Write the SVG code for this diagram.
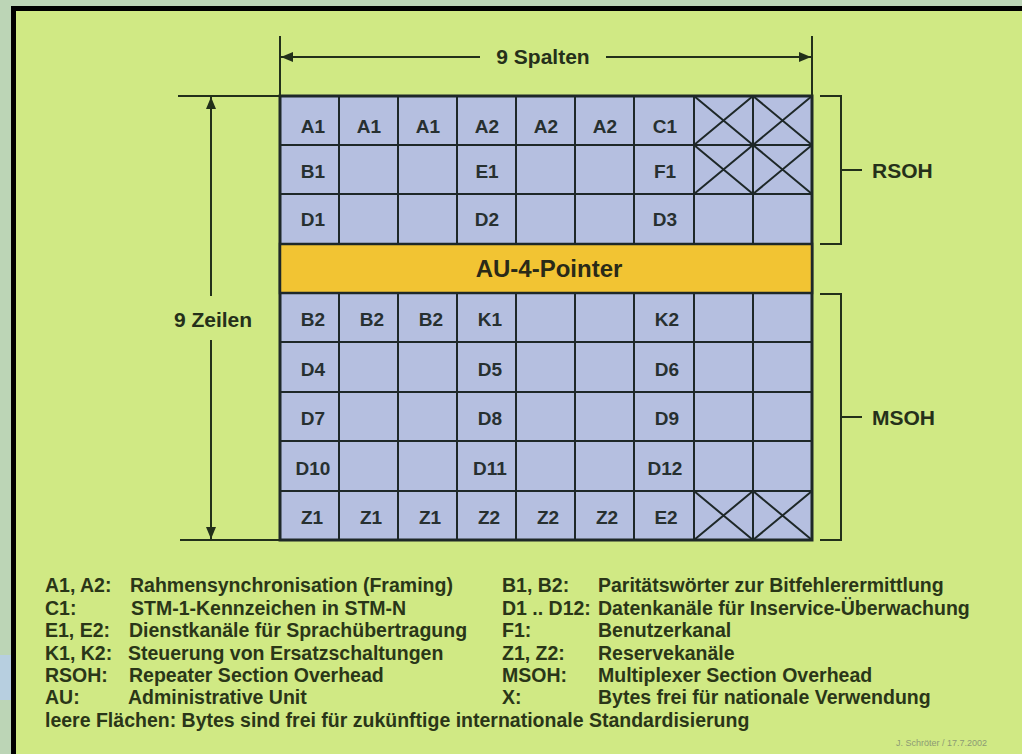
<svg xmlns="http://www.w3.org/2000/svg" width="1022" height="754" viewBox="0 0 1022 754">
<style>
.cell{fill:#b5bfe0;stroke:#1e2828;stroke-width:2}
.ct{font-family:"Liberation Sans",Arial,sans-serif;font-weight:bold;font-size:19px;fill:#273030;text-anchor:middle}
.lbl{font-family:"Liberation Sans",Arial,sans-serif;font-weight:bold;font-size:21px;fill:#25301a}
.lg{font-family:"Liberation Sans",Arial,sans-serif;font-weight:bold;font-size:19.5px;fill:#2a3618}
.ln{stroke:#22301a;stroke-width:2;fill:none}
.x{stroke:#1e2828;stroke-width:2}
</style>
<defs>
<marker id="ah" viewBox="0 0 12 10" refX="12" refY="5" markerWidth="12" markerHeight="10" markerUnits="userSpaceOnUse" orient="auto-start-reverse">
<path d="M0,0 L12,5 L0,10 z" fill="#22301a"/>
</marker>
</defs>
<rect x="0" y="0" width="1022" height="754" fill="#bcd5b6"/>
<rect x="0" y="655" width="11" height="45" fill="#b7cfe0"/>
<rect x="13.5" y="8.5" width="1100" height="1000" fill="#d0e984" stroke="#000" stroke-width="5"/>

<g id="grid">
<g id="rsoh-rows">
<rect class="cell" x="280" y="96" width="532" height="148"/>
</g>
<g id="msoh-rows">
<rect class="cell" x="280" y="293" width="532" height="247"/>
</g>
<path class="x" d="M339,96V244M398,96V244M457,96V244M516,96V244M575,96V244M634,96V244M694,96V244M753,96V244M280,145H812M280,194H812"/>
<path class="x" d="M339,293V540M398,293V540M457,293V540M516,293V540M575,293V540M634,293V540M694,293V540M753,293V540M280,342H812M280,392H812M280,441H812M280,491H812"/>
<g id="x-cells">
<path class="x" d="M694,96L753,145M753,96L694,145M753,96L812,145M812,96L753,145M694,145L753,194M753,145L694,194M753,145L812,194M812,145L753,194M694,491L753,540M753,491L694,540M753,491L812,540M812,491L753,540"/>
</g>
<rect x="280" y="96" width="532" height="444" fill="none" stroke="#1e2828" stroke-width="3"/>
</g>

<g id="pointer">
<rect x="280" y="244" width="532" height="49" fill="#f2c433" stroke="#1e2828" stroke-width="2.5"/>
<text x="549" y="277" font-family="Liberation Sans, Arial, sans-serif" font-weight="bold" font-size="24" fill="#2a2a18" text-anchor="middle">AU-4-Pointer</text>
</g>

<g id="cell-labels">
<text class="ct" x="313" y="133">A1</text>
<text class="ct" x="369" y="133">A1</text>
<text class="ct" x="428" y="133">A1</text>
<text class="ct" x="487" y="133">A2</text>
<text class="ct" x="546" y="133">A2</text>
<text class="ct" x="605" y="133">A2</text>
<text class="ct" x="665" y="133">C1</text>
<text class="ct" x="313" y="178">B1</text>
<text class="ct" x="487" y="178">E1</text>
<text class="ct" x="665" y="178">F1</text>
<text class="ct" x="313" y="226">D1</text>
<text class="ct" x="487" y="226">D2</text>
<text class="ct" x="665" y="226">D3</text>
<text class="ct" x="313" y="326">B2</text>
<text class="ct" x="372" y="326">B2</text>
<text class="ct" x="431" y="326">B2</text>
<text class="ct" x="490" y="326">K1</text>
<text class="ct" x="667" y="326">K2</text>
<text class="ct" x="313" y="376">D4</text>
<text class="ct" x="490" y="376">D5</text>
<text class="ct" x="667" y="376">D6</text>
<text class="ct" x="313" y="425">D7</text>
<text class="ct" x="490" y="425">D8</text>
<text class="ct" x="667" y="425">D9</text>
<text class="ct" x="313" y="475">D10</text>
<text class="ct" x="490" y="475">D11</text>
<text class="ct" x="665" y="475">D12</text>
<text class="ct" x="312" y="524">Z1</text>
<text class="ct" x="371" y="524">Z1</text>
<text class="ct" x="430" y="524">Z1</text>
<text class="ct" x="489" y="524">Z2</text>
<text class="ct" x="548" y="524">Z2</text>
<text class="ct" x="607" y="524">Z2</text>
<text class="ct" x="666" y="524">E2</text>
</g>

<g id="connectors">
<path class="ln" d="M280,36V96M812,36V96"/>
<line class="ln" x1="480" y1="57" x2="281" y2="57" marker-end="url(#ah)"/>
<line class="ln" x1="606" y1="57" x2="811" y2="57" marker-end="url(#ah)"/>
<path class="ln" d="M178,96H280M180,540H280"/>
<line class="ln" x1="211" y1="296" x2="211" y2="97" marker-end="url(#ah)"/>
<line class="ln" x1="211" y1="340" x2="211" y2="539" marker-end="url(#ah)"/>
<path class="ln" d="M820,96H841V244H820M841,170H862"/>
<path class="ln" d="M820,294H841V540H820M841,417H862"/>
</g>

<g id="dim-labels">
<text class="lbl" x="543" y="64" text-anchor="middle">9 Spalten</text>
<text class="lbl" x="213" y="327" text-anchor="middle">9 Zeilen</text>
<text class="lbl" x="872" y="178">RSOH</text>
<text class="lbl" x="872" y="425">MSOH</text>
</g>

<g id="legend">
<text class="lg" x="45" y="592">A1, A2:</text>
<text class="lg" x="130" y="592">Rahmensynchronisation (Framing)</text>
<text class="lg" x="45" y="615">C1:</text>
<text class="lg" x="131" y="615">STM-1-Kennzeichen in STM-N</text>
<text class="lg" x="45" y="637">E1, E2:</text>
<text class="lg" x="129" y="637">Dienstkanäle für Sprachübertragung</text>
<text class="lg" x="45" y="660">K1, K2:</text>
<text class="lg" x="128" y="660">Steuerung von Ersatzschaltungen</text>
<text class="lg" x="45" y="682">RSOH:</text>
<text class="lg" x="129" y="682">Repeater Section Overhead</text>
<text class="lg" x="45" y="704">AU:</text>
<text class="lg" x="128" y="704">Administrative Unit</text>
<text class="lg" x="45" y="727">leere Flächen: Bytes sind frei für zukünftige internationale Standardisierung</text>
<text class="lg" x="502" y="592">B1, B2:</text>
<text class="lg" x="598" y="592">Paritätswörter zur Bitfehlerermittlung</text>
<text class="lg" x="502" y="615">D1 .. D12:</text>
<text class="lg" x="598" y="615">Datenkanäle für Inservice-Überwachung</text>
<text class="lg" x="502" y="637">F1:</text>
<text class="lg" x="598" y="637">Benutzerkanal</text>
<text class="lg" x="502" y="660">Z1, Z2:</text>
<text class="lg" x="598" y="660">Reservekanäle</text>
<text class="lg" x="502" y="682">MSOH:</text>
<text class="lg" x="598" y="682">Multiplexer Section Overhead</text>
<text class="lg" x="502" y="704">X:</text>
<text class="lg" x="598" y="704">Bytes frei für nationale Verwendung</text>
<text x="987" y="746" font-family="Liberation Sans, Arial, sans-serif" font-size="9" fill="#8c9a74" text-anchor="end">J. Schröter / 17.7.2002</text>
</g>
</svg>
